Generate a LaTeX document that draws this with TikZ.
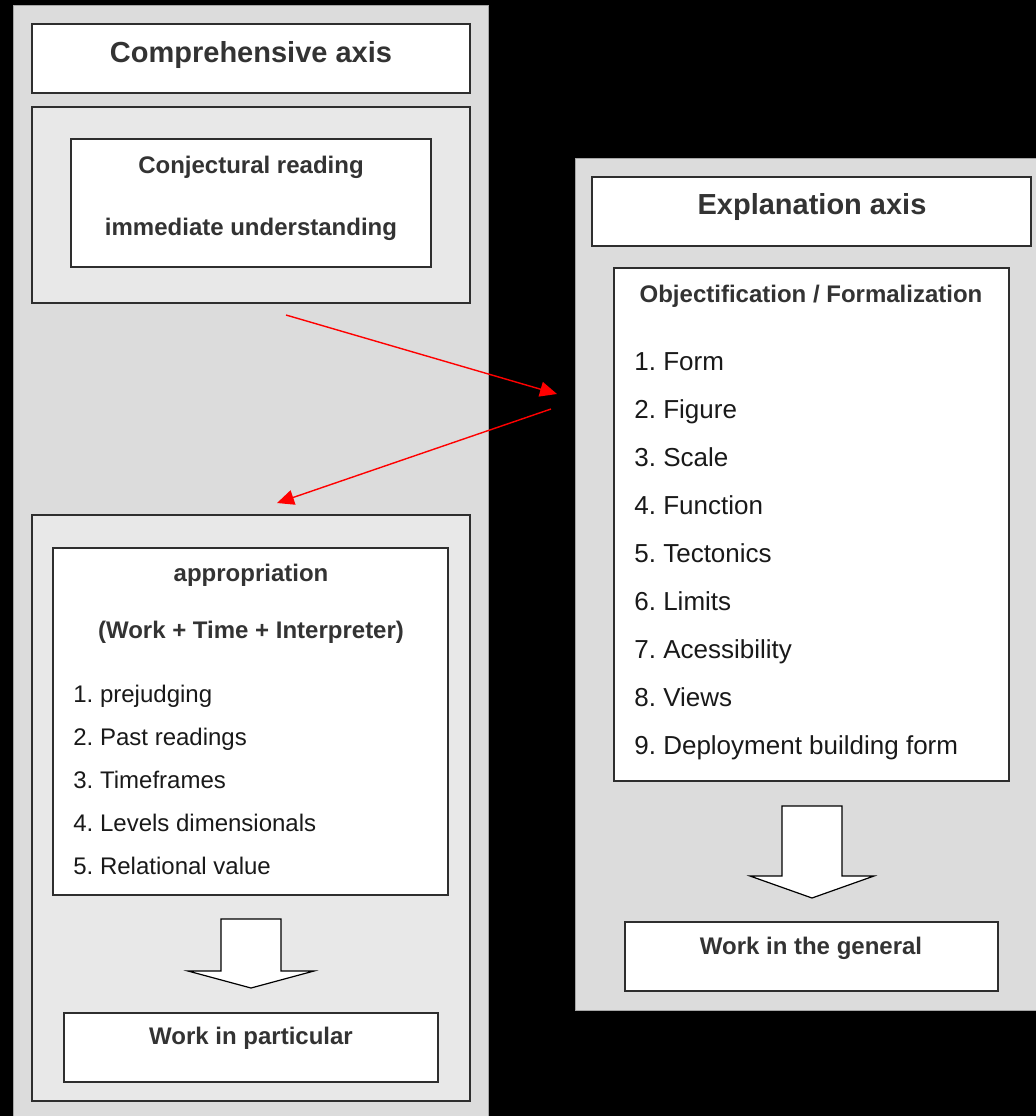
\documentclass[tikz,border=0pt]{standalone}
\usepackage{fontspec}
\setmainfont{Liberation Sans}
\frenchspacing
\usetikzlibrary{arrows.meta,fit}
\definecolor{panel}{HTML}{DCDCDC}
\definecolor{inner}{HTML}{E8E8E8}
\definecolor{ink}{HTML}{333333}
\definecolor{edge}{HTML}{2E2E2E}
\tikzset{
  box/.style={draw=edge, line width=0.75pt, fill=white, inner sep=0pt},
  graybox/.style={draw=edge, line width=0.75pt, fill=inner, inner sep=0pt},
  bigtitle/.style={anchor=base, font=\bfseries\fontsize{14.5}{16}\selectfont, text=ink, inner sep=0pt},
  subtitle/.style={anchor=base, font=\bfseries\fontsize{12}{14}\selectfont, text=ink, inner sep=0pt},
  litem/.style={anchor=base west, font=\fontsize{12}{14}\selectfont, text=black!90, inner sep=0pt},
  ritem/.style={anchor=base west, font=\fontsize{13}{15}\selectfont, text=black!90, inner sep=0pt},
  redarrow/.style={draw=red, line width=0.7pt, -{Triangle[length=8.5pt,width=7.5pt]}},
  blockarrow/.style={draw=black, line width=0.6pt, fill=white, line join=miter}
}
\begin{document}
\begin{tikzpicture}[x=0.5pt,y=-0.5pt]
\useasboundingbox (0,0) rectangle (1036,1116);
\fill[black] (0,0) rectangle (1036,1116);
% left panel
\fill[panel] (13,5) rectangle (488,1116);
\draw[gray!70, line width=0.5pt] (13,1116) -- (13,5) -- (488,5) -- (488,1116);
% right panel
\fill[panel] (575,158) rectangle (1036,1010);
\draw[gray!70, line width=0.5pt] (1036,158) -- (575,158) -- (575,1010) -- (1036,1010);

% left column boxes
\node[box, fit={(32,24) (470,93)}] (ltitle) {};
\node[bigtitle] (ltitletext) at (251,62) {Comprehensive axis};

\node[graybox, fit={(32,107) (470,303)}] (lread) {};
\node[box, fit={(71,139) (431,267)}] (lreadin) {};
\node[subtitle] (conj) at (251,173) {Conjectural reading};
\node[subtitle] (imm) at (251,235) {immediate understanding};

\node[graybox, fit={(32,515) (470,1101)}] (lapp) {};
\node[box, fit={(53,548) (448,895)}] (lappin) {};
\node[subtitle] (appr) at (251,581) {appropriation};
\node[subtitle] (wti) at (251,638) {(Work + Time + Interpreter)};
\node[litem] (l1) at (73,702) {1. prejudging};
\node[litem] (l2) at (73,745) {2. Past readings};
\node[litem] (l3) at (73,788) {3. Timeframes};
\node[litem] (l4) at (73,831) {4. Levels dimensionals};
\node[litem] (l5) at (73,874) {5. Relational value};

\node[box, fit={(64,1013) (438,1082)}] (lres) {};
\node[subtitle] (lrestext) at (251,1044) {Work in particular};

% left block arrow
\draw[blockarrow] (221,919) -- (281,919) -- (281,971) -- (314,971) -- (251,988)
  -- (188,971) -- (221,971) -- cycle;

% right column boxes
\node[box, fit={(592,177) (1031,246)}] (rtitle) {};
\node[bigtitle] (rtitletext) at (812,214) {Explanation axis};

\node[box, fit={(614,268) (1009,781)}] (robj) {};
\node[subtitle] (objt) at (811,302) {Objectification / Formalization};
\node[ritem] (r1) at (634,370) {1. Form};
\node[ritem] (r2) at (634,418) {2. Figure};
\node[ritem] (r3) at (634,466) {3. Scale};
\node[ritem] (r4) at (634,514) {4. Function};
\node[ritem] (r5) at (634,562) {5. Tectonics};
\node[ritem] (r6) at (634,610) {6. Limits};
\node[ritem] (r7) at (634,658) {7. Acessibility};
\node[ritem] (r8) at (634,706) {8. Views};
\node[ritem] (r9) at (634,754) {9. Deployment building form};

\node[box, fit={(625,922) (998,991)}] (rres) {};
\node[subtitle] (rrestext) at (811,954) {Work in the general};

% right block arrow
\draw[blockarrow] (782,806) -- (842,806) -- (842,876) -- (874,876) -- (812,898)
  -- (750,876) -- (782,876) -- cycle;

% red arrows
\coordinate (a1s) at (286,315);
\coordinate (a1e) at (557,394);
\coordinate (a2s) at (551,409);
\coordinate (a2e) at (277,503);
\draw[redarrow] (a1s) -- (a1e);
\draw[redarrow] (a2s) -- (a2e);
\end{tikzpicture}
\end{document}
